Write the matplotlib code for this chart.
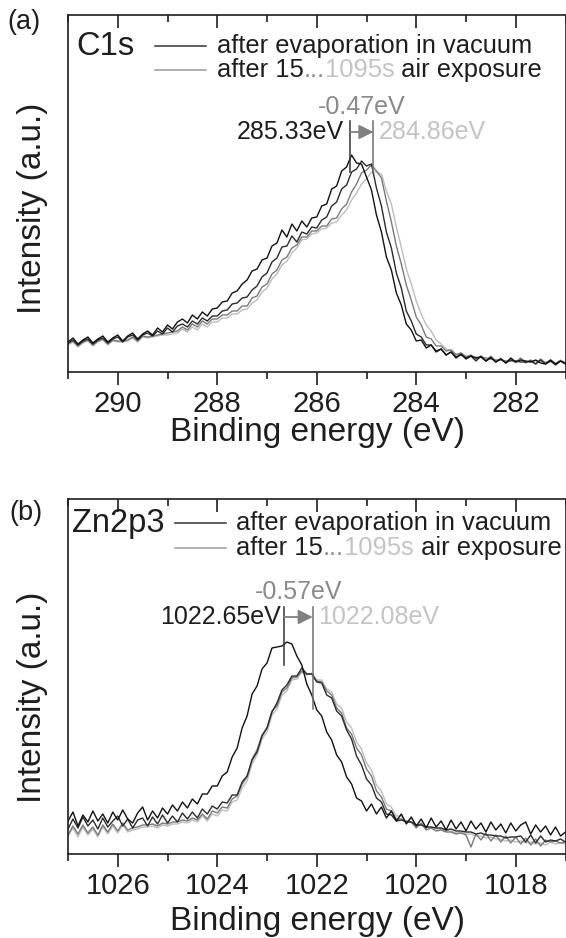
import numpy as np
import matplotlib
matplotlib.use("Agg")
import matplotlib.pyplot as plt
import matplotlib.lines as mlines
from matplotlib.ticker import MultipleLocator

plt.rcParams['font.family'] = ['Liberation Sans', 'DejaVu Sans']

# ---------------- data: panel (a) C1s ----------------
be_c1s = np.round(np.arange(291.0, 280.95, -0.1), 2)
c1s_vacuum = [30,34,28,32,35,29,33,36,30,34,
              37,31,36,39,33,38,41,37,44,40,
              47,43,50,53,49,57,53,60,56,63,
              64,70,71,79,81,88,92,101,103,112,
              114,126,129,142,135,148,141,151,145,154,
              155,166,168,183,186,201,205,217,209,208,
              195,182,157,140,115,102,79,67,48,42,
              31,32,24,27,20,23,17,20,14,18,
              13,16,14,15,11,15,10,13,9,14,
              10,12,11,10,12,9,8,12,8,11,
              8]
c1s_air1 = [29,32,27,31,33,28,32,34,29,33,
            35,30,35,37,32,37,39,36,41,38,
            44,40,46,48,45,51,48,54,51,56,
            56,61,62,68,69,74,75,82,86,95,
            99,110,114,125,126,136,130,140,138,145,
            144,152,155,166,170,183,187,200,203,211,
            206,208,184,166,140,124,99,84,61,51,
            38,35,27,27,21,23,17,20,15,17,
            14,16,11,16,11,14,10,13,9,12,
            11,10,10,11,8,12,8,11,7,11,
            9]
c1s_air2 = [28,31,26,30,32,27,31,33,28,32,
            31,31,32,35,31,36,35,36,37,38,
            39,40,41,45,42,48,45,51,48,53,
            53,57,57,61,61,66,66,74,76,85,
            88,98,102,112,115,124,127,135,135,141,
            141,146,146,153,154,163,168,180,188,199,
            202,207,201,194,171,150,126,108,87,72,
            55,47,35,33,26,26,21,22,17,19,
            15,17,13,15,14,13,12,12,11,11,
            10,14,9,12,8,13,9,12,8,11,
            8]
c1s_air3 = [27,30,25,29,31,26,30,32,27,31,
            30,30,31,34,30,35,34,35,36,37,
            37,38,39,43,40,45,42,48,45,50,
            50,54,54,58,58,62,63,69,72,80,
            84,93,98,107,111,119,124,132,133,138,
            139,143,144,149,150,157,162,172,179,188,
            193,200,200,198,181,168,145,125,103,88,
            71,58,47,41,32,28,23,22,18,19,
            16,16,15,15,12,16,11,14,10,13,
            9,13,10,10,11,11,10,10,9,12,
            9]

# ---------------- data: panel (b) Zn2p3 ----------------
be_zn = np.round(np.arange(1027.0, 1016.95, -0.1), 2)
zn_vacuum = [33,42,28,39,32,43,33,40,31,42,
             34,44,35,31,41,47,34,43,36,46,
             40,49,43,52,46,55,50,60,60,68,
             68,78,82,97,106,126,138,160,168,185,
             191,206,207,208,212,210,198,189,170,159,
             144,138,122,114,99,92,77,70,56,53,
             43,50,40,47,36,43,33,40,30,37,
             28,35,26,36,27,33,24,34,25,32,
             23,33,25,31,22,32,24,30,21,31,
             23,29,32,20,29,22,28,19,27,18,
             22]
zn_air1 = [25,35,26,37,28,34,25,36,27,33,
           38,28,35,26,34,36,28,37,30,39,
           31,38,32,41,35,42,36,45,40,48,
           45,52,51,59,59,72,78,94,102,118,
           126,142,151,164,169,178,178,186,180,180,
           172,171,159,156,143,138,124,115,98,89,
           75,69,56,52,40,39,33,34,32,32,
           29,29,27,27,26,26,24,25,23,23,
           22,22,20,21,19,19,18,18,16,17,
           17,18,12,19,11,18,12,14,13,15,
           12]
zn_air2 = [19,28,20,29,21,27,19,29,22,30,
           23,31,24,26,27,29,29,30,28,31,
           30,32,32,34,33,36,34,40,35,43,
           41,47,46,55,58,70,77,95,104,119,
           126,143,148,162,166,176,177,183,180,180,
           173,172,163,159,146,141,126,120,106,99,
           85,78,63,57,45,43,35,35,33,32,
           26,31,24,26,23,24,22,22,20,21,
           19,7,20,14,21,13,19,12,18,11,
           17,10,16,9,15,8,14,12,13,11,
           12]
zn_air3 = [18,26,17,27,19,25,17,27,20,28,
           21,29,22,24,25,27,27,28,26,29,
           28,30,30,32,31,34,32,38,33,40,
           38,44,43,52,54,66,73,90,99,115,
           122,139,145,159,163,174,175,182,179,181,
           174,174,165,162,150,146,132,126,112,105,
           91,84,69,63,50,47,38,38,31,36,
           28,30,27,27,25,25,23,23,21,22,
           20,20,18,18,16,17,15,15,13,14,
           12,13,11,12,10,11,9,12,10,11,
           10]

# peak positions and markers
c1s_peaks = [285.33, 284.86]
c1s_shift = "-0.47eV"
zn_peaks = [1022.65, 1022.08]
zn_shift = "-0.57eV"

curve_colors = ["#111111", "#2b2b2b", "#7a7a7a", "#bdbdbd"]
INK = "#1e1e1e"

W, H = 566, 938
fig = plt.figure(figsize=(W / 100, H / 100), dpi=100)

def px_axes(x0, y_top, x1, y_bot):
    return [x0 / W, 1 - y_bot / H, (x1 - x0) / W, (y_bot - y_top) / H]

ax_a = fig.add_axes(px_axes(68, 15, 565.5, 372))
ax_b = fig.add_axes(px_axes(68, 499, 565.5, 854))

def style(ax, xlim, ylim, major_ticks):
    ax.set_xlim(*xlim)
    ax.set_ylim(*ylim)
    ax.set_xticks(major_ticks)
    ax.xaxis.set_minor_locator(MultipleLocator(1))
    ax.set_yticks([])
    for s in ax.spines.values():
        s.set_linewidth(1.2)
        s.set_color(INK)
    ax.tick_params(axis='x', which='major', direction='out', length=9, width=1.2,
                   labelsize=21, pad=4, colors=INK, top=True, labeltop=False)
    ax.tick_params(axis='x', which='minor', direction='out', length=5, width=1.2,
                   colors=INK, top=True)
    # bottom ticks point outward, top ticks point inward
    for t in ax.xaxis.get_major_ticks() + ax.xaxis.get_minor_ticks():
        t.tick2line.set_marker(mlines.TICKDOWN)

style(ax_a, (291, 281), (0, 357), [290, 288, 286, 284, 282])
style(ax_b, (1027, 1017), (0, 355), [1026, 1024, 1022, 1020, 1018])

for ys, c in zip([c1s_air3, c1s_air2, c1s_air1, c1s_vacuum], curve_colors[::-1]):
    ax_a.plot(be_c1s, ys, color=c, lw=1.0)
for ys, c in zip([zn_air3, zn_air2, zn_air1, zn_vacuum], curve_colors[::-1]):
    ax_b.plot(be_zn, ys, color=c, lw=1.0)

def annotate_shift(ax, peaks, shift, y_arrow, y_top, y_bots, y_shift, dl, dr, fmt):
    x1, x2 = peaks
    ax.plot([x1, x1], [y_bots[0], y_top], color="#333333", lw=1.1)
    ax.plot([x2, x2], [y_bots[1], y_top], color="#6e6e6e", lw=1.1)
    ax.annotate('', xy=(x2, y_arrow), xytext=(x1, y_arrow),
                arrowprops=dict(arrowstyle='-|>', color="#808080", lw=1.3,
                                mutation_scale=22, shrinkA=0, shrinkB=0))
    ax.annotate(fmt.format(x1) + "eV", xy=(x1, y_arrow), xytext=(dl, 0),
                textcoords='offset pixels', ha='right', va='center',
                fontsize=18, color=INK)
    ax.annotate(fmt.format(x2) + "eV", xy=(x2, y_arrow), xytext=(dr, 0),
                textcoords='offset pixels', ha='left', va='center',
                fontsize=18, color="#c4c4c4")
    ax.text((x1 + x2) / 2, y_shift, shift, ha='center', va='center',
            fontsize=18, color="#8a8a8a")

annotate_shift(ax_a, c1s_peaks, c1s_shift, 240, 251, (200, 199), 265, -6, 5, "{:.2f}")
annotate_shift(ax_b, zn_peaks, zn_shift, 237, 247, (189, 145), 262, -4, 5, "{:.2f}")

def legend(ax, title, lx0, lx1, y1, y2, tx, title_x):
    ax.text(title_x, y1, title, transform=ax.transAxes, ha='left', va='center',
            fontsize=23.5, color=INK)
    ax.plot([lx0, lx1], [y1, y1], transform=ax.transAxes, color="#333333", lw=1.1)
    ax.plot([lx0, lx1], [y2, y2], transform=ax.transAxes, color="#9a9a9a", lw=1.1)
    ax.text(tx, y1, "after evaporation in vacuum", transform=ax.transAxes,
            ha='left', va='center', fontsize=18.4, color=INK)
    t = ax.text(tx, y2, "after 15", transform=ax.transAxes,
                ha='left', va='center', fontsize=18.4, color=INK)
    t = ax.annotate("...", xycoords=t, xy=(1, 0), va='bottom', ha='left',
                    fontsize=18.4, color="#8a8a8a")
    t = ax.annotate("1095s", xycoords=t, xy=(1, 0), va='bottom', ha='left',
                    fontsize=18.4, color="#c4c4c4")
    ax.annotate(" air exposure", xycoords=t, xy=(1, 0), va='bottom', ha='left',
                fontsize=18.4, color=INK)

legend(ax_a, "C1s", 0.175, 0.277, 0.913, 0.846, 0.2995, 0.016)
legend(ax_b, "Zn2p3", 0.215, 0.318, 0.932, 0.862, 0.338, 0.008)

# axis labels
fig.text(317 / W, 1 - 433 / H, "Binding energy (eV)", ha='center', va='center',
         fontsize=24, color=INK)
fig.text(317 / W, 1 - 921 / H, "Binding energy (eV)", ha='center', va='center',
         fontsize=24, color=INK)
fig.text(33 / W, 1 - 208 / H, "Intensity (a.u.)", ha='center', va='center',
         rotation=90, fontsize=24, color=INK)
fig.text(33 / W, 1 - 697 / H, "Intensity (a.u.)", ha='center', va='center',
         rotation=90, fontsize=24, color=INK)
fig.text(7 / W, 1 - 22 / H, "(a)", ha='left', va='center', fontsize=19.5, color=INK)
fig.text(9 / W, 1 - 513 / H, "(b)", ha='left', va='center', fontsize=19.5, color=INK)

fig.savefig("out.png", dpi=100)
